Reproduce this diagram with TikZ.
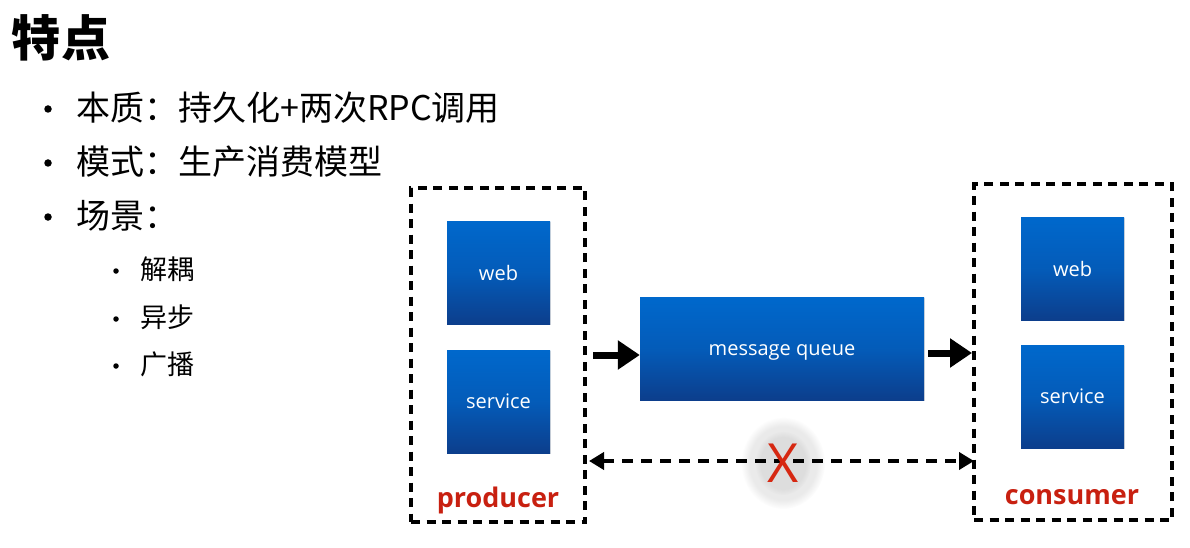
\documentclass[tikz,border=0pt]{standalone}
\usepackage{fontspec}
\newfontfamily\cjk{Noto Sans CJK SC}
\newfontfamily\osans{Open Sans}
\usetikzlibrary{arrows.meta,shadows,fadings}
\definecolor{boxtop}{RGB}{0,104,204}
\definecolor{boxbot}{RGB}{12,62,140}
\definecolor{redtxt}{RGB}{200,32,16}
\definecolor{xred}{RGB}{214,40,18}
\tikzset{
  bluebox/.style={draw=none,top color=boxtop,bottom color=boxbot,middle color=boxtop!70!boxbot,
    text=white,font=\osans\fontsize{20}{22}\selectfont,
    drop shadow={opacity=0.25,shadow xshift=1.2pt,shadow yshift=-1.2pt}},
  sqbox/.style={bluebox,minimum width=103pt,minimum height=103pt,inner sep=0pt},
  group/.style={draw=black,line width=4.4pt,dash pattern=on 9pt off 6.5pt},
  bigtxt/.style={font=\cjk\fontsize{34}{36}\selectfont,anchor=west,inner sep=0pt},
  smalltxt/.style={font=\cjk\fontsize{27}{30}\selectfont,anchor=west,inner sep=0pt},
  bul/.style={circle,fill=black,inner sep=0pt,minimum size=7.5pt},
  sbul/.style={circle,fill=black,inner sep=0pt,minimum size=5.5pt},
  lbl/.style={text=redtxt,font=\osans\bfseries\fontsize{27}{30}\selectfont,inner sep=0pt},
  fatarrow/.style={line width=7pt,-{Triangle[length=22pt,width=28pt]}},
  dasharrow/.style={line width=4pt,dash pattern=on 11pt off 8pt,{Triangle[length=15pt,width=17pt]}-{Triangle[length=15pt,width=17pt]}}
}
\begin{document}
\begin{tikzpicture}[x=1pt,y=-1pt]
\useasboundingbox (0,0) rectangle (1190,548);
\fill[white] (0,0) rectangle (1190,548);
% title and bullets
\node[font=\cjk\bfseries\fontsize{49}{52}\selectfont,inner sep=0pt] (title) at (61,38) {特点};
\node[bul] (b1) at (48,109) {};
\node[bigtxt] (t1) at (76,108) {本质：持久化+两次RPC调用};
\node[bul] (b2) at (48,163) {};
\node[bigtxt] (t2) at (76,162) {模式：生产消费模型};
\node[bul] (b3) at (48,217) {};
\node[bigtxt] (t3) at (76,216) {场景：};
\node[sbul] (s1) at (116,271) {};
\node[smalltxt] (u1) at (140,269) {解耦};
\node[sbul] (s2) at (116,319) {};
\node[smalltxt] (u2) at (140,317) {异步};
\node[sbul] (s3) at (116,366) {};
\node[smalltxt] (u3) at (140,364) {广播};
% groups
\node[group,minimum width=174pt,minimum height=334pt,inner sep=0pt] (producer) at (498,355) {};
\node[group,minimum width=198pt,minimum height=336pt,inner sep=0pt] (consumer) at (1073,352) {};
% boxes
\node[sqbox] (pweb) at (498.5,272.5) {web};
\node[sqbox] (psvc) at (498.5,401.5) {service};
\node[sqbox] (cweb) at (1072.5,268.5) {web};
\node[sqbox] (csvc) at (1072.5,396.5) {service};
\node[bluebox,minimum width=284pt,minimum height=103pt,inner sep=0pt] (mq) at (782,348.5) {};
\node[text=white,font=\osans\fontsize{20}{22}\selectfont,inner sep=0pt] (mqlbl) at (782,352) {message queue};
% labels
\node[lbl] (plbl) at (498,500) {producer};
\node[lbl] (clbl) at (1072,497) {consumer};
% arrows
\coordinate (pa) at (593,355);
\coordinate (ca) at (928,353);
\draw[fatarrow] (pa) -- (mq.west |- pa);
\coordinate (cb) at (972,353);
\draw[fatarrow] (ca) -- (cb);
\coordinate (dl) at (589,461);
\coordinate (dr) at (974,461);
\fill[gray,opacity=0.16,path fading=circle with fuzzy edge 20 percent] (783,463) ellipse (42pt and 46pt);
\fill[gray,opacity=0.12,path fading=circle with fuzzy edge 20 percent] (783,463) ellipse (28pt and 32pt);
\draw[dasharrow] (dl) -- (dr);
\node[text=xred,font=\osans\fontsize{54}{54}\selectfont,inner sep=0pt] (x) at (783,463) {X};
\end{tikzpicture}
\end{document}
